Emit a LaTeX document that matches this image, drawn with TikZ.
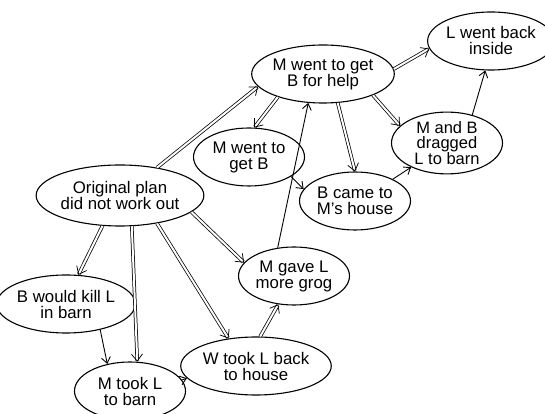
\documentclass[tikz,border=0pt]{standalone}
\usepackage{fontspec}
\setmainfont{Liberation Sans}
\usetikzlibrary{arrows.meta,shapes.geometric}
\tikzset{
    %Define standard arrow tip
    >={Straight Barb[length=6pt,width=9pt]},
    %Define style for events
    oval/.style={
           ellipse,
           draw=black, line width=1.1pt,
           inner sep=0pt,
           minimum width=111pt,
           minimum height=58pt,
           align=center,
           font=\fontsize{16.8}{16}\selectfont},
    % Define arrow styles
    enkel/.style={
           ->,
           line width=0.9pt},
    dobbel/.style={
           -{Straight Barb[length=7pt,width=11pt]},
           double, double distance=2pt,
           line width=0.75pt}
}
\begin{document}
\begin{tikzpicture}[x=1pt,y=1pt]
\useasboundingbox (0,0) rectangle (545,414);
\node[oval, minimum width=155pt, minimum height=61pt] (orig) at (120,218.5) {Original plan\\did not work out};
\node[oval] (help) at (323,340) {M went to get\\B for help};
\node[oval] (getb) at (249,257) {M went to\\get B};
\node[oval] (back) at (491,373) {L went back\\inside};
\node[oval, font=\fontsize{16.5}{15.8}\selectfont] (dragged) at (447,271) {M and B\\dragged\\L to barn};
\node[oval] (came) at (355,213) {B came to\\M’s house};
\node[oval] (grog) at (294,138) {M gave L\\more grog};
\node[oval] (kill) at (66,110) {B would kill L\\in barn};
\node[oval] (took) at (130,23) {M took L\\to barn};
\node[oval] (wback) at (256,48) {W took L back\\to house};

% double arrows
\draw[dobbel] (orig.37) -- (help.191);
\draw[dobbel] (help.207) -- (getb.80);
\draw[dobbel] (help.297) -- (came.90);
\draw[dobbel] (help.337) -- (dragged.160);
\draw[dobbel] (help.4) -- (back.187);
\draw[dobbel] (orig.240) -- (kill.67);
\draw[dobbel] (orig.291) -- (took.76);
\draw[dobbel] (orig.323) -- (wback.135);
\draw[dobbel] (orig.347) -- (grog.165);
\draw[dobbel] (wback.82) -- (grog.241);

% single arrows
\draw[enkel] (grog.120) -- (help.243);
\draw[enkel] (getb.335) -- (came.167);
\draw[enkel] (came.30) -- (dragged.214);
\draw[enkel] (dragged.48) -- (back.259);
\draw[enkel] (kill.323) -- (took.130);
\draw[enkel] (took.12) -- (wback.190);
\end{tikzpicture}
\end{document}
